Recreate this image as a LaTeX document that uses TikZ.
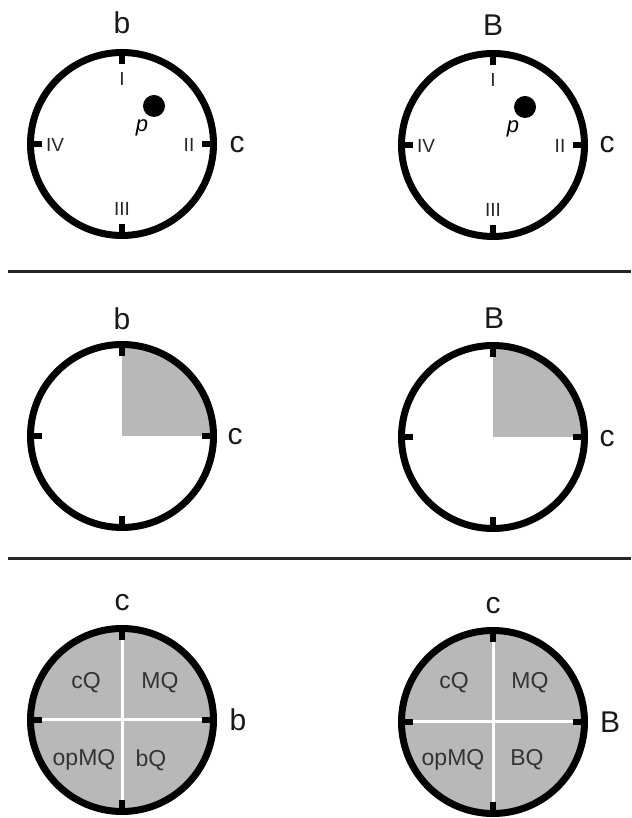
\documentclass[tikz,border=0pt]{standalone}
\usepackage{fontspec}
\setmainfont{Liberation Sans}
\begin{document}
\begin{tikzpicture}[x=1pt,y=1pt,
  ring/.style={line width=7pt, draw=black},
  tickmark/.style={line width=6pt, draw=black},
  axislabel/.style={font=\fontsize{30}{30}\selectfont, inner sep=0pt, text=black!90},
  numeral/.style={font=\fontsize{19}{19}\selectfont, inner sep=0pt, text=black!85},
  quadlabel/.style={font=\fontsize{23}{23}\selectfont, inner sep=0pt, text=black!80},
  shade/.style={fill=black!28},
  divider/.style={line width=3pt, draw=black!85},
  dial/.pic={
    \draw[ring] (0,0) circle[radius=91.5];
    \foreach \a in {0,90,180,270} \draw[tickmark] (\a:80) -- (\a:94);
  },
  quarter/.pic={
    \fill[shade] (0,0) -- (0,90) arc[start angle=90, end angle=0, radius=90] -- cycle;
  },
  quadrants/.pic={
    \fill[shade] (0,0) circle[radius=91];
    \draw[white, line width=3pt] (-88,0) -- (88,0) (0,-88) -- (0,88);
  }]
\useasboundingbox (0,0) rectangle (631,818);

% ---- top row: dials with quadrant numerals and point p ----
\foreach \cx/\cy/\nm in {122/674/L, 493/673/R} {
  \pic at (\cx,\cy) {dial};
  \fill[black] (\cx+32,\cy+38) circle[radius=11];
  \node[font=\fontsize{22}{22}\selectfont\itshape, inner sep=0pt] (p\nm) at (\cx+20,\cy+16) {p};
  \node[numeral] (one\nm)   at (\cx,\cy+65)   {I};
  \node[numeral] (two\nm)   at (\cx+67,\cy-1) {II};
  \node[numeral] (three\nm) at (\cx,\cy-65)   {III};
  \node[numeral] (four\nm)  at (\cx-67,\cy-1) {IV};
}
\node[axislabel] (topb) at (122,795) {b};
\node[axislabel] (topc) at (237,673) {c};
\node[axislabel] (topB) at (493,793) {B};
\node[axislabel] (topcR) at (607,673) {c};

\draw[divider] (8,546) -- (631,546);

% ---- middle row: shaded first quadrant ----
\pic at (122,382) {quarter};
\pic at (122,382) {dial};
\pic at (493,381) {quarter};
\pic at (493,381) {dial};
\node[axislabel] (midb) at (122,499) {b};
\node[axislabel] (midc) at (235,381) {c};
\node[axislabel] (midB) at (494,500) {B};
\node[axislabel] (midcR) at (607,379) {c};

\draw[divider] (8,259) -- (631,259);

% ---- bottom row: named quadrants ----
\pic at (122,98) {quadrants};
\pic at (122,98) {dial};
\pic at (493,96) {quadrants};
\pic at (493,96) {dial};
\node[axislabel] (botc) at (122,215) {c};
\node[axislabel] (botb) at (238,98) {b};
\node[axislabel] (botcR) at (493,212) {c};
\node[axislabel] (botB) at (610,96) {B};

\node[quadlabel] (cQL)   at (86,135) {cQ};
\node[quadlabel] (MQL)   at (160,135) {MQ};
\node[quadlabel] (opMQL) at (84,58) {opMQ};
\node[quadlabel] (bQL)   at (151,58) {bQ};
\node[quadlabel] (cQR)   at (454,135) {cQ};
\node[quadlabel] (MQR)   at (530,135) {MQ};
\node[quadlabel] (opMQR) at (453,58) {opMQ};
\node[quadlabel] (BQR)   at (527,58) {BQ};
\end{tikzpicture}
\end{document}
